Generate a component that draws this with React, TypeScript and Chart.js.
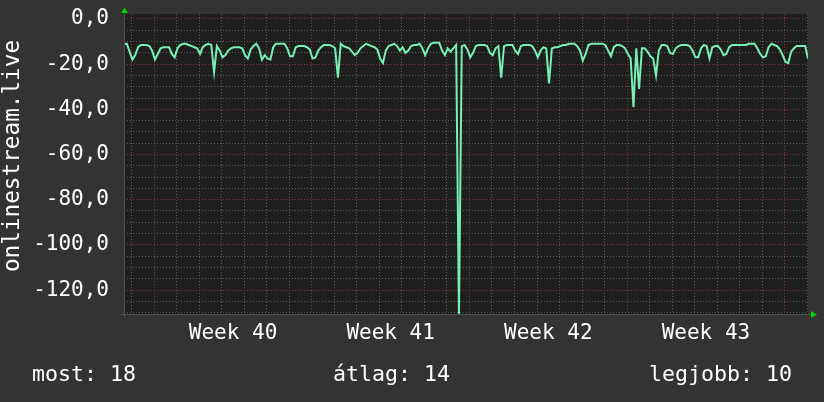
import React, { useEffect, useRef } from "react";
import { Chart, registerables } from "chart.js";

Chart.register(...registerables);

// ---- data ----
const seriesName = "onlinestream.live";
const sampleHours = 3; // one sample every 3 hours
const values: number[] = [
  -11, -11, -14.5, -18, -16, -12.5, -11.5, -11.5,
  -11.5, -12, -14, -18, -15.5, -13, -12.5, -12.5,
  -12.5, -15.5, -17, -13, -11.5, -11, -11, -11.5,
  -12, -12.5, -13, -15.5, -12.5, -11.5, -11, -11.5,
  -23.5, -12, -14, -17, -16, -14, -13, -12.5,
  -12.5, -12.5, -13, -16, -17.5, -13.5, -12, -11,
  -13, -18, -16, -17.5, -18, -12.5, -11, -11,
  -11, -11, -13, -16.5, -16.5, -12.5, -12, -12,
  -12, -12.5, -13.5, -17.5, -17, -14, -12.5, -11.5,
  -11.5, -11.5, -12, -13, -26, -11, -12, -12.5,
  -13, -14.5, -16, -15, -13, -12, -11, -11.5,
  -12, -12.5, -13.5, -17.5, -19.5, -14, -12, -11.5,
  -11, -12, -14, -12.5, -15, -14, -12, -11.5,
  -11.5, -11, -13, -16, -13, -11, -10.5, -10.5,
  -10.5, -14, -16, -13, -14.5, -13, -11.5, -131,
  -12, -11.5, -13.5, -17, -15, -12, -11.5, -11.5,
  -11.5, -12, -15, -16, -13, -12, -26, -12,
  -11.5, -11.5, -11.5, -14, -15.5, -12, -11.5, -11.5,
  -11.5, -12, -14, -17, -14, -12.5, -13, -28.5,
  -13, -12.5, -12.5, -12, -11.5, -11.5, -11, -11,
  -11, -12, -14, -18.5, -15.5, -11.5, -11, -11,
  -11, -11, -11, -11.5, -14, -16.5, -12.5, -11.5,
  -11.5, -12, -13, -15.5, -17.5, -39, -13, -31,
  -13, -13, -14.5, -16.5, -17.5, -25, -14, -11.5,
  -11.5, -12, -15, -15.5, -13, -12, -11.5, -11.5,
  -11.5, -12, -14, -17, -17, -13, -11.5, -12,
  -17.5, -12.5, -12, -12, -13.5, -16, -15.5, -12.5,
  -11.5, -11.5, -11.5, -11.5, -11.5, -11.5, -11, -11,
  -11, -13, -15.5, -17, -16.5, -12.5, -11, -11.5,
  -12, -13.5, -16, -19, -19.5, -14.5, -13, -12,
  -12, -12, -12, -17.5,
];
const weekLabels = ["Week 40", "Week 41", "Week 42", "Week 43"];
const firstDayBoundaryHour = 8.2;
const firstWeekStartHour = 32.2;
const yMin = -130.6;
const yMax = 2.2;
const legendLabels = ["most", "átlag", "legjobb"];
const legendValues = [18, 14, 10];

// ---- styles ----
const BG = "#333333";
const PLOT_BG = "#1e1e1e";
const LINE = "#78f0b4";
const GRID_MINOR = "rgba(105,105,105,0.85)";
const GRID_MAJOR = "rgba(150,55,55,0.9)";
const ARROW = "#00d000";
const FONT = "'DejaVu Sans Mono', monospace";

const fmt = (v: number) => (Math.abs(v) < 1e-9 ? 0 : v).toFixed(1).replace(".", ",");

const noPad = (s: any) => {
  s.paddingTop = 0;
  s.paddingBottom = 0;
  s.paddingLeft = 0;
  s.paddingRight = 0;
};

export default function App() {
  const ref = useRef<HTMLCanvasElement>(null);

  useEffect(() => {
    document.body.style.margin = "0";
    document.body.style.background = BG;
    const canvas = ref.current!;
    const totalHours = (values.length - 1) * sampleHours;
    const data = values.map((v, i) => ({ x: i * sampleHours, y: v }));

    const dayTicks: number[] = [];
    for (let h = firstDayBoundaryHour; h <= totalHours; h += 24) dayTicks.push(h);
    const weekMids = weekLabels.map((_, i) => firstWeekStartHour + 168 * i + 84);
    const yTicks: number[] = [];
    for (let v = -130; v <= 0; v += 5) yTicks.push(v);

    const decor = {
      id: "decor",
      beforeDraw(chart: any) {
        const { ctx, chartArea: a } = chart;
        ctx.save();
        ctx.fillStyle = BG;
        ctx.fillRect(0, 0, chart.width, chart.height);
        ctx.fillStyle = PLOT_BG;
        ctx.fillRect(a.left, a.top, a.right - a.left, a.bottom - a.top);
        ctx.restore();
      },
      afterDraw(chart: any) {
        const { ctx, chartArea: a } = chart;
        ctx.save();
        // axis lines
        ctx.strokeStyle = "rgba(80,80,80,1)";
        ctx.lineWidth = 1;
        ctx.beginPath();
        ctx.moveTo(a.left - 3, a.bottom + 0.5);
        ctx.lineTo(a.right + 3, a.bottom + 0.5);
        ctx.moveTo(a.left + 0.5, a.top - 3);
        ctx.lineTo(a.left + 0.5, a.bottom + 3);
        ctx.stroke();
        // arrows
        ctx.fillStyle = ARROW;
        ctx.beginPath();
        ctx.moveTo(a.left + 0.5, a.top - 6.5);
        ctx.lineTo(a.left - 3, a.top - 1);
        ctx.lineTo(a.left + 4, a.top - 1);
        ctx.closePath();
        ctx.fill();
        ctx.beginPath();
        ctx.moveTo(a.right + 9, a.bottom + 0.5);
        ctx.lineTo(a.right + 3, a.bottom - 3);
        ctx.lineTo(a.right + 3, a.bottom + 4);
        ctx.closePath();
        ctx.fill();
        // y title
        ctx.fillStyle = "#ffffff";
        ctx.font = `22.7px ${FONT}`;
        ctx.textAlign = "center";
        ctx.textBaseline = "alphabetic";
        ctx.translate(19, 156);
        ctx.rotate(-Math.PI / 2);
        ctx.fillText(seriesName, 0, 0);
        ctx.restore();
        // legend
        ctx.save();
        ctx.fillStyle = "#ffffff";
        ctx.font = `21.6px ${FONT}`;
        ctx.textBaseline = "alphabetic";
        const texts = legendLabels.map((l, i) => `${l}: ${legendValues[i]}`);
        ctx.textAlign = "left";
        ctx.fillText(texts[0], 32, 381);
        ctx.fillText(texts[1], 333, 381);
        ctx.textAlign = "right";
        ctx.fillText(texts[2], 792, 381);
        ctx.restore();
      },
    };

    const chart = new Chart(canvas, {
      type: "line",
      data: {
        datasets: [
          {
            data,
            borderColor: LINE,
            borderWidth: 2,
            pointRadius: 0,
            tension: 0,
            fill: false,
            xAxisID: "x",
            yAxisID: "y",
          },
        ],
      },
      options: {
        animation: false,
        responsive: false,
        devicePixelRatio: 1,
        layout: { padding: { left: 0, top: 14, right: 16, bottom: 0 } },
        plugins: { legend: { display: false }, tooltip: { enabled: false }, title: { display: false } },
        scales: {
          x: {
            type: "linear",
            position: "bottom",
            min: 0,
            max: totalHours,
            afterBuildTicks: (s: any) => {
              s.ticks = dayTicks.map((v) => ({ value: v }));
            },
            afterFit: (s: any) => {
              s.height = 0;
              noPad(s);
            },
            ticks: { display: false },
            grid: {
              drawTicks: false,
              color: (c: any) => {
                const idx = dayTicks.indexOf(c.tick?.value);
                return idx >= 0 && (idx - 1) % 7 === 0 ? GRID_MAJOR : GRID_MINOR;
              },
              lineWidth: 1,
            },
            border: { display: false, dash: [1, 2] },
          },
          xw: {
            type: "linear",
            position: "bottom",
            min: 0,
            max: totalHours,
            afterBuildTicks: (s: any) => {
              s.ticks = weekMids.map((v) => ({ value: v }));
            },
            afterFit: (s: any) => {
              s.height = 88;
              noPad(s);
            },
            ticks: {
              autoSkip: false,
              maxRotation: 0,
              padding: 7,
              color: "#ffffff",
              font: { family: FONT, size: 21 },
              callback: (_v: any, i: number) => weekLabels[i],
            },
            grid: { display: false, drawTicks: false },
            border: { display: false },
          },
          y: {
            type: "linear",
            position: "left",
            min: yMin,
            max: yMax,
            afterBuildTicks: (s: any) => {
              s.ticks = yTicks.map((v) => ({ value: v }));
            },
            afterFit: (s: any) => {
              s.width = 124;
              noPad(s);
            },
            ticks: {
              autoSkip: false,
              padding: 15,
              color: "#ffffff",
              font: { family: FONT, size: 21 },
              callback: (v: any) => (Math.round(v) % 20 === 0 ? fmt(Number(v)) : ""),
            },
            grid: {
              drawTicks: false,
              color: (c: any) => (Math.round(c.tick?.value) % 20 === 0 ? GRID_MAJOR : GRID_MINOR),
              lineWidth: 1,
            },
            border: { display: false, dash: [1, 2] },
          },
        },
      },
      plugins: [decor],
    } as any);

    return () => chart.destroy();
  }, []);

  return <canvas ref={ref} width={824} height={402} style={{ display: "block", width: 824, height: 402 }} />;
}
